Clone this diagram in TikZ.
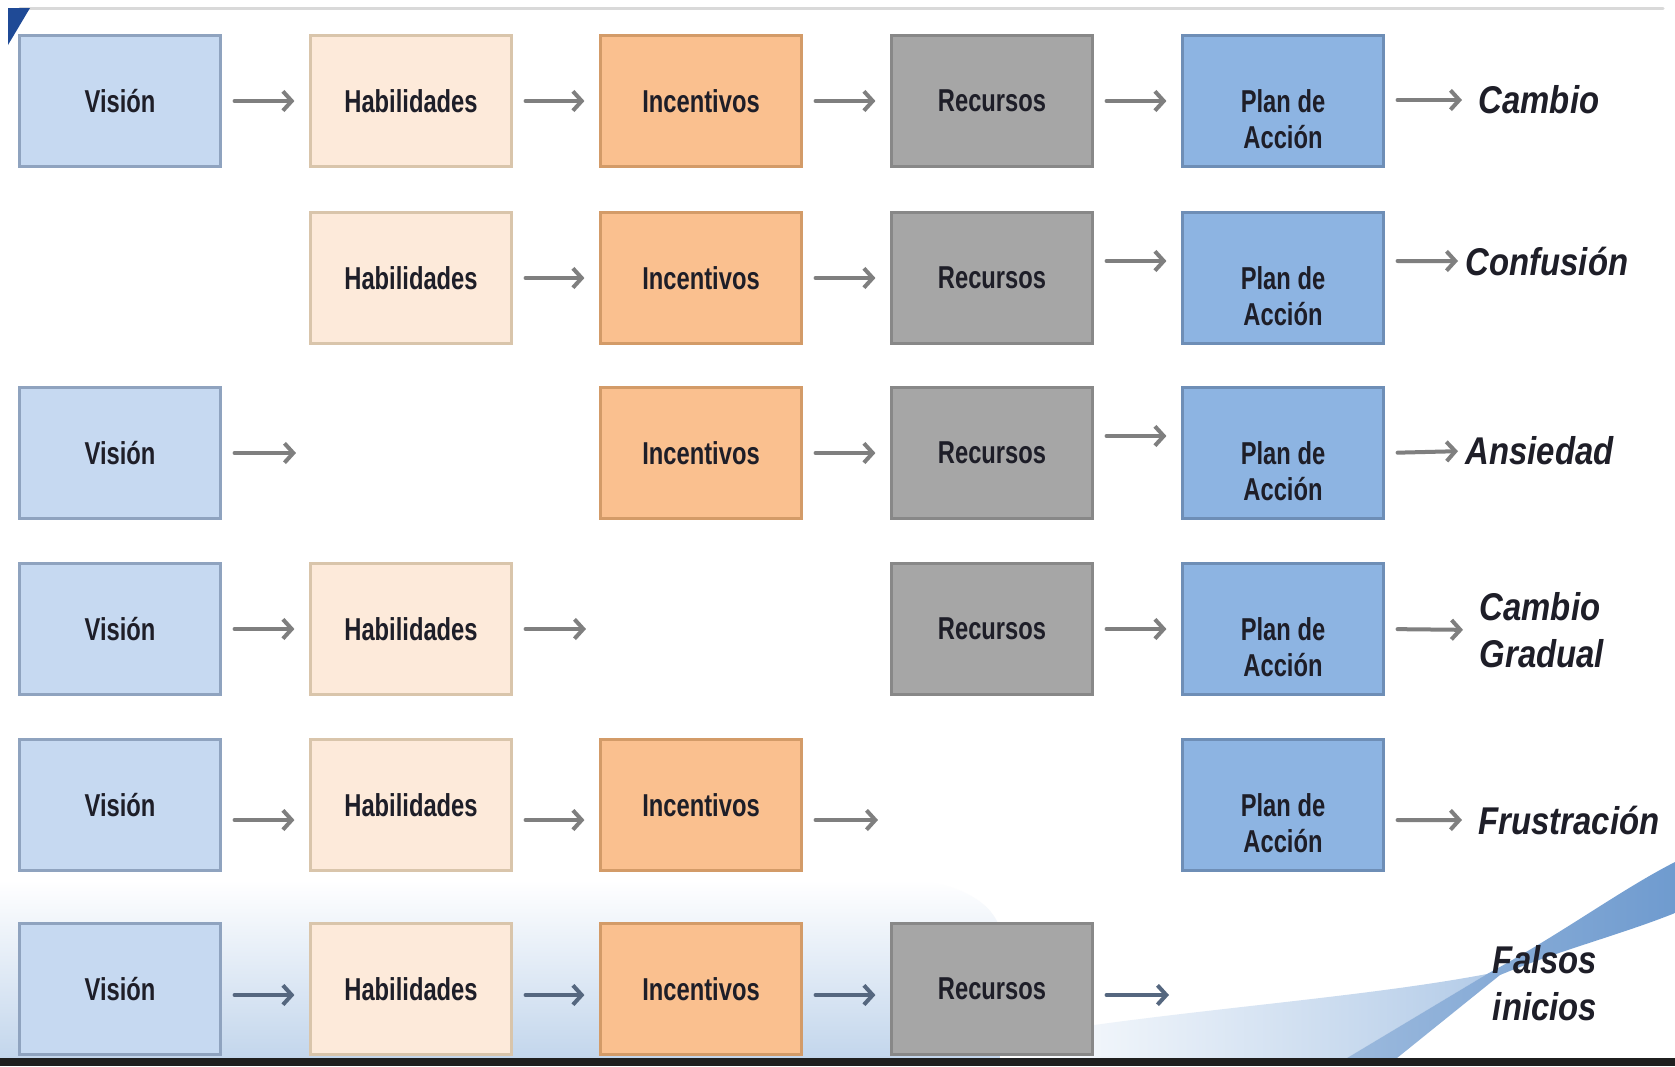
\documentclass[tikz,border=0pt]{standalone}
\usepackage{fontspec}
\setmainfont{Liberation Sans}
\usepackage{graphicx}
\usepackage{tikz}
\usetikzlibrary{arrows.meta, calc}

\definecolor{visionAzul}{HTML}{C6D9F1}
\definecolor{visionBorde}{HTML}{8FA3BF}
\definecolor{habilCrema}{HTML}{FDEADA}
\definecolor{habilBorde}{HTML}{D9C5AB}
\definecolor{incentNaranja}{HTML}{FAC08F}
\definecolor{incentBorde}{HTML}{D39B68}
\definecolor{recursoGris}{HTML}{A6A6A6}
\definecolor{recursoBorde}{HTML}{888888}
\definecolor{planAzul}{HTML}{8DB4E2}
\definecolor{planBorde}{HTML}{6E8EB6}
\definecolor{flechaGris}{HTML}{7F7F7F}
\definecolor{flechaPizarra}{HTML}{55677F}
\definecolor{textoOscuro}{HTML}{1E1E28}
\definecolor{fondoAzul}{HTML}{C3D6EC}
\definecolor{cintaAzul}{HTML}{6F9BCF}
\definecolor{cintaMedia}{HTML}{9BB9DD}
\definecolor{cintaClara}{HTML}{B4CCE8}
\definecolor{esquinaAzul}{HTML}{1F4A96}

\newcommand{\estr}[1]{\scalebox{0.75}[1]{#1}}
\newcommand{\ancho}[1]{\scalebox{0.85}[1]{#1}}

\begin{document}
\begin{tikzpicture}[x=0.01cm, y=-0.01cm, line cap=round,
  caja/.style={draw, line width=0.03cm, minimum width=2cm, minimum height=1.31cm, inner sep=0pt, font=\bfseries\fontsize{9}{10.5}\selectfont, text=textoOscuro},
  vision/.style={caja, fill=visionAzul, draw=visionBorde},
  habil/.style={caja, fill=habilCrema, draw=habilBorde},
  incent/.style={caja, fill=incentNaranja, draw=incentBorde},
  recurso/.style={caja, fill=recursoGris, draw=recursoBorde},
  plan/.style={caja, fill=planAzul, draw=planBorde},
  planTexto/.style={yshift=-0.18cm, align=center, inner sep=0pt, font=\bfseries\fontsize{9}{10.3}\selectfont, text=textoOscuro},
  flecha/.style={flechaGris, line width=0.04cm, -{Straight Barb[length=2.5pt, width=5.5pt]}, shorten <=0.13cm, shorten >=0.15cm},
  resultado/.style={inner sep=0pt, anchor=west, align=left, font=\bfseries\itshape\fontsize{11}{13.2}\selectfont, text=textoOscuro}]

  \useasboundingbox (0,0) rectangle (1675,1066);

  % fondo
  \fill[white] (0,0) rectangle (1675,1066);
  \draw[black!15, line width=0.03cm] (20,8) -- (1663,8);
  \fill[esquinaAzul] (8,8) -- (30,8) -- (8,45) -- cycle;
  \shade[top color=white, bottom color=fondoAzul] (0,880) -- (900,880) .. controls (960,880) and (995,905) .. (1000,930) -- (1000,1058) -- (0,1058) -- cycle;
  \shade[left color=white, right color=cintaClara] (1000,1058) -- (1000,1040) .. controls (1150,1012) and (1350,1000) .. (1487,974) -- (1347,1058) -- cycle;
  \shade[left color=cintaMedia, right color=cintaAzul] (1347,1058) -- (1487,974) .. controls (1560,935) and (1620,890) .. (1675,862) -- (1675,913) .. controls (1620,935) and (1560,950) .. (1500,975) -- (1397,1058) -- cycle;
  \fill[black!88] (0,1058) rectangle (1675,1066);

  % fila 1
  \node[vision] (v1) at (120,101) {\estr{Visión}};
  \node[habil] (h1) at (411,101) {\estr{Habilidades}};
  \node[incent] (i1) at (701,101) {\estr{Incentivos}};
  \node[recurso] (r1) at (992,101) {\estr{Recursos}};
  \node[plan, label={[planTexto]center:{\estr{Plan de}\\\estr{Acción}}}] (p1) at (1283,101) {};
  \node[resultado] (c1) at (1478,100) {\ancho{Cambio}};
  \draw[flecha] (v1.east) -- (h1.west);
  \draw[flecha] (h1.east) -- (i1.west);
  \draw[flecha] (i1.east) -- (r1.west);
  \draw[flecha] (r1.east) -- (p1.west);
  \draw[flecha, shorten >=0.16cm] ([yshift=0.01cm]p1.east) -- (c1.west);

  % fila 2
  \node[habil] (h2) at (411,278) {\estr{Habilidades}};
  \node[incent] (i2) at (701,278) {\estr{Incentivos}};
  \node[recurso] (r2) at (992,278) {\estr{Recursos}};
  \node[plan, label={[planTexto]center:{\estr{Plan de}\\\estr{Acción}}}] (p2) at (1283,278) {};
  \node[resultado] (c2) at (1465,261) {\ancho{Confusión}};
  \draw[flecha] (h2.east) -- (i2.west);
  \draw[flecha] (i2.east) -- (r2.west);
  \draw[flecha] ([yshift=0.17cm]r2.east) -- ([yshift=0.17cm]p2.west);
  \draw[flecha, shorten >=0.07cm] ([yshift=0.17cm]p2.east) -- (c2.west);

  % fila 3
  \node[vision] (v3) at (120,453) {\estr{Visión}};
  \node[incent] (i3) at (701,453) {\estr{Incentivos}};
  \node[recurso] (r3) at (992,453) {\estr{Recursos}};
  \node[plan, label={[planTexto]center:{\estr{Plan de}\\\estr{Acción}}}] (p3) at (1283,453) {};
  \node[resultado] (c3) at (1465,451) {\ancho{Ansiedad}};
  \coordinate (v3fin) at (311,453);
  \draw[flecha] (v3.east) -- (v3fin);
  \draw[flecha] (i3.east) -- (r3.west);
  \draw[flecha] ([yshift=0.17cm]r3.east) -- ([yshift=0.17cm]p3.west);
  \draw[flecha, shorten >=0.07cm] (p3.east) -- (c3.west);

  % fila 4
  \node[vision] (v4) at (120,629) {\estr{Visión}};
  \node[habil] (h4) at (411,629) {\estr{Habilidades}};
  \node[recurso] (r4) at (992,629) {\estr{Recursos}};
  \node[plan, label={[planTexto]center:{\estr{Plan de}\\\estr{Acción}}}] (p4) at (1283,629) {};
  \node[resultado] (c4) at (1479,630) {\ancho{Cambio}\\\ancho{Gradual}};
  \coordinate (h4fin) at (601,629);
  \draw[flecha] (v4.east) -- (h4.west);
  \draw[flecha] (h4.east) -- (h4fin);
  \draw[flecha] (r4.east) -- (p4.west);
  \draw[flecha, shorten >=0.16cm] (p4.east) -- (c4.west);

  % fila 5
  \node[vision] (v5) at (120,805) {\estr{Visión}};
  \node[habil] (h5) at (411,805) {\estr{Habilidades}};
  \node[incent] (i5) at (701,805) {\estr{Incentivos}};
  \node[plan, label={[planTexto]center:{\estr{Plan de}\\\estr{Acción}}}] (p5) at (1283,805) {};
  \node[resultado] (c5) at (1478,820) {\ancho{Frustración}};
  \coordinate (i5fin) at (893,805);
  \draw[flecha] ([yshift=-0.15cm]v5.east) -- ([yshift=-0.15cm]h5.west);
  \draw[flecha] ([yshift=-0.15cm]h5.east) -- ([yshift=-0.15cm]i5.west);
  \draw[flecha] ([yshift=-0.15cm]i5.east) -- ([yshift=-0.15cm]i5fin);
  \draw[flecha, shorten >=0.16cm] ([yshift=-0.15cm]p5.east) -- (c5.west);

  % fila 6
  \node[vision] (v6) at (120,989) {\estr{Visión}};
  \node[habil] (h6) at (411,989) {\estr{Habilidades}};
  \node[incent] (i6) at (701,989) {\estr{Incentivos}};
  \node[recurso] (r6) at (992,989) {\estr{Recursos}};
  \node[resultado, anchor=center, align=center, font=\bfseries\itshape\fontsize{11}{13.4}\selectfont] (c6) at (1545,983) {\ancho{Falsos}\\\ancho{inicios}};
  \coordinate (r6fin) at (1184,989);
  \draw[flecha, flechaPizarra] ([yshift=-0.06cm]v6.east) -- ([yshift=-0.06cm]h6.west);
  \draw[flecha, flechaPizarra] ([yshift=-0.06cm]h6.east) -- ([yshift=-0.06cm]i6.west);
  \draw[flecha, flechaPizarra] ([yshift=-0.06cm]i6.east) -- ([yshift=-0.06cm]r6.west);
  \draw[flecha, flechaPizarra] ([yshift=-0.06cm]r6.east) -- ([yshift=-0.06cm]r6fin);

\end{tikzpicture}
\end{document}
